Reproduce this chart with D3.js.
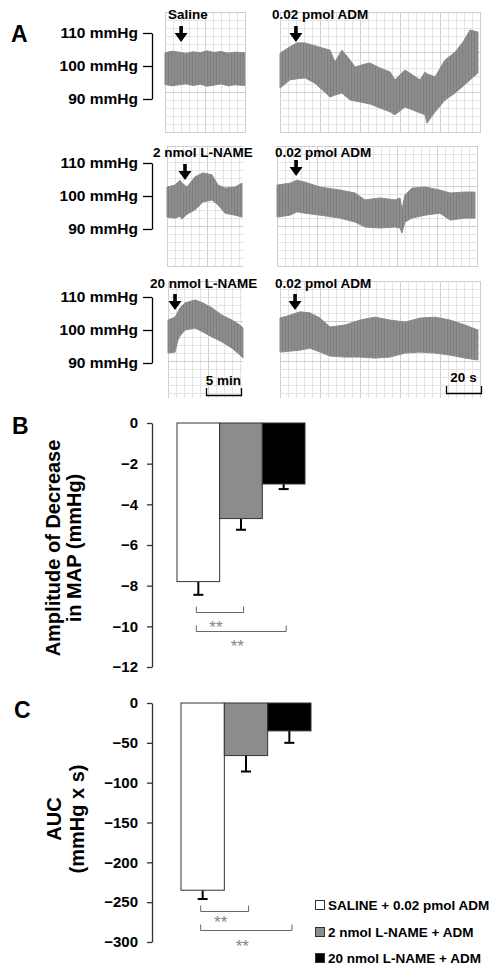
<!DOCTYPE html>
<html><head><meta charset="utf-8">
<script src="https://cdn.jsdelivr.net/npm/d3@7"></script>
<style>
body{margin:0;background:#fff;}
text{font-family:"Liberation Sans",Arial,Helvetica,sans-serif;font-weight:bold;}
</style>
</head><body>
<svg id="chart" width="502" height="975"></svg>
<script>
// ---------------- DATA ----------------
// Panel A pressure axis ticks (mmHg)
const pressureTicks = [90, 100, 110];

// Row 1 left: Saline (time in min; systolic / diastolic envelope in mmHg)
const r1L_t  = [0, 1, 2, 3, 4, 5, 6, 7, 8, 9, 10, 11.4];
const r1L_hi = [104.0, 104.5, 104.2, 103.8, 104.3, 104.0, 104.6, 104.1, 104.4, 103.9, 104.2, 104.0];
const r1L_lo = [94.4, 94.0, 94.3, 94.6, 94.1, 94.5, 93.9, 94.2, 94.6, 94.0, 94.3, 94.1];

// Row 1 right: 0.02 pmol ADM after saline (time in s)
const r1R_t  = [0, 5.7, 9.7, 14.3, 20, 28.6, 31.4, 35.4, 40, 42.9, 48.6, 51.4, 57.1, 62.9, 65.7, 71.4, 80, 82.9, 84, 88.6, 94.3, 100, 104.6, 108.6, 113.1];
const r1R_hi = [103.9, 105.8, 107.0, 107.0, 106.1, 104.8, 101.2, 104.8, 101.8, 99.7, 100.6, 100.9, 99.4, 98.2, 95.8, 98.8, 95.8, 98.2, 97.6, 96.7, 101.8, 104.2, 107.3, 110.9, 110.3];
const r1R_lo = [93.3, 95.8, 96.1, 96.4, 94.8, 90.6, 91.2, 91.8, 89.7, 89.4, 88.8, 88.5, 87.3, 86.1, 85.2, 87.6, 85.8, 85.2, 82.7, 86.1, 89.7, 91.8, 93.9, 95.8, 97.9];

// Row 2 left: 2 nmol L-NAME (min)
const r2L_t  = [0, 1.14, 1.86, 2.14, 2.86, 4, 5.14, 6.43, 7.29, 8.29, 9.71, 10.71];
const r2L_hi = [102.7, 103.3, 104.8, 103.9, 102.7, 105.8, 107.0, 106.4, 103.3, 102.4, 102.7, 103.9];
const r2L_lo = [93.6, 93.3, 93.9, 93.0, 94.5, 95.8, 98.2, 98.8, 97.3, 94.8, 94.2, 93.6];

// Row 2 right: 0.02 pmol ADM after 2 nmol L-NAME (s)
const r2R_t  = [0, 7.4, 11.4, 16, 24.6, 36, 44.6, 50.3, 58.9, 67.4, 70.3, 71.4, 73.1, 77.1, 84.6, 93.1, 98.9, 107.4, 113.1];
const r2R_hi = [103.3, 103.9, 104.8, 104.2, 102.7, 101.8, 100.9, 98.8, 99.4, 98.8, 99.4, 95.8, 100.3, 102.4, 102.7, 101.8, 100.9, 101.2, 101.2];
const r2R_lo = [93.6, 94.2, 95.2, 94.8, 94.2, 93.3, 92.1, 90.6, 90.3, 90.6, 90.3, 88.8, 92.1, 93.3, 94.2, 94.8, 92.7, 93.3, 93.3];

// Row 3 left: 20 nmol L-NAME (min)
const r3L_t  = [0, 1, 1.43, 1.71, 2.43, 3.86, 5, 6.29, 7.71, 9.14, 10.29, 10.71];
const r3L_hi = [103.0, 103.9, 105.5, 106.7, 108.2, 109.1, 108.2, 106.7, 104.5, 103.0, 101.5, 100.6];
const r3L_lo = [93.0, 93.3, 97.0, 98.2, 100.0, 100.6, 99.4, 97.9, 96.4, 94.5, 92.4, 91.5];

// Row 3 right: 0.02 pmol ADM after 20 nmol L-NAME (s)
const r3R_t  = [0, 5.7, 11.4, 17.1, 22.9, 28.6, 37.1, 45.7, 54.3, 62.9, 71.4, 80, 88.6, 97.1, 105.7, 113.1];
const r3R_hi = [103.6, 104.5, 105.5, 105.2, 103.6, 100.9, 101.5, 103.0, 103.9, 103.0, 102.4, 103.6, 103.9, 103.0, 101.5, 100.0];
const r3R_lo = [93.3, 93.6, 93.9, 94.5, 93.3, 92.1, 91.8, 91.8, 91.5, 91.8, 93.0, 93.3, 93.0, 92.4, 91.5, 90.9];

// Injection markers
const leftLabels  = ["Saline", "2 nmol L-NAME", "20 nmol L-NAME"];
const rightLabel  = "0.02 pmol ADM";
const leftInjT    = [2.3, 2.57, 1.0];    // min
const rightInjT   = [9.1, 10.9, 8.6];    // s
const leftScaleBar  = 5;   // min
const rightScaleBar = 20;  // s

// Panels B and C
const groups   = ["SALINE + 0.02 pmol ADM", "2 nmol L-NAME + ADM", "20 nmol L-NAME + ADM"];
const ampMean  = [-7.8, -4.7, -3.0];
const ampSE    = [0.65, 0.55, 0.25];
const ampTicks = [0, -2, -4, -6, -8, -10, -12];
const aucMean  = [-235, -66, -35];
const aucSE    = [11, 20, 15];
const aucTicks = [0, -50, -100, -150, -200, -250, -300];
// significance comparisons: [from group, to group, bracket level, star level]
const ampSig = [[0, 1, -9.3, -9.85], [0, 2, -10.25, -10.75]];
const aucSig = [[0, 1, -261, -270], [0, 2, -285, -300]];
const fills  = ["#ffffff", "#8c8c8c", "#000000"];

// ---------------- DRAW ----------------
const svg = d3.select("#chart");
const defs = svg.append("defs");
const pat = defs.append("pattern").attr("id", "trace").attr("patternUnits", "userSpaceOnUse")
  .attr("width", 3).attr("height", 4);
pat.append("rect").attr("width", 3).attr("height", 4).attr("fill", "#8d8d8d");
pat.append("rect").attr("width", 1).attr("height", 4).attr("fill", "#7f7f7f");

function grid(x0, x1, y0, y1) {
  const g = svg.append("g");
  let i = 0;
  for (let x = x0; x <= x1 + 0.1; x += 8, i++) {
    g.append("line").attr("x1", x + 0.5).attr("x2", x + 0.5).attr("y1", y0).attr("y2", y1)
      .attr("stroke", i % 5 === 0 ? "#cfcfcf" : "#e4e4e4").attr("stroke-width", 1);
  }
  i = 0;
  for (let y = y0; y <= y1 + 0.1; y += 8, i++) {
    g.append("line").attr("x1", x0).attr("x2", x1).attr("y1", y + 0.5).attr("y2", y + 0.5)
      .attr("stroke", i % 5 === 0 ? "#cfcfcf" : "#e4e4e4").attr("stroke-width", 1);
  }
}

function arrow(x, tip) {
  svg.append("rect").attr("x", x - 1.8).attr("y", tip - 16).attr("width", 3.6).attr("height", 9).attr("fill", "#000");
  svg.append("path").attr("d", `M${x - 6.5},${tip - 9} L${x + 6.5},${tip - 9} L${x},${tip} Z`).attr("fill", "#000");
}

const rows = [
  {y110: 33, y90: 99, gy: [12, 133], L: {x0: 165, gx: [165, 245], t: r1L_t, hi: r1L_hi, lo: r1L_lo, lab: 168},
   R: {x0: 280, gx: [280, 480], t: r1R_t, hi: r1R_hi, lo: r1R_lo, lab: 272}, labY: 19, tipL: 42, tipR: 42},
  {y110: 163, y90: 229, gy: [146, 266], L: {x0: 167, gx: [167, 243], t: r2L_t, hi: r2L_hi, lo: r2L_lo, lab: 153},
   R: {x0: 277, gx: [277, 478], t: r2R_t, hi: r2R_hi, lo: r2R_lo, lab: 275}, labY: 157, tipL: 180, tipR: 176},
  {y110: 297, y90: 363, gy: [281, 398], L: {x0: 168, gx: [168, 243], t: r3L_t, hi: r3L_hi, lo: r3L_lo, lab: 150},
   R: {x0: 280, gx: [280, 480], t: r3R_t, hi: r3R_hi, lo: r3R_lo, lab: 275}, labY: 288, tipL: 310, tipR: 310}
];

let lastXL, lastXR;
rows.forEach((r, ri) => {
  const y = d3.scaleLinear().domain([90, 110]).range([r.y90, r.y110]);
  const xL = d3.scaleLinear().domain([0, 80 / 7]).range([r.L.x0, r.L.x0 + 80]);
  const xR = d3.scaleLinear().domain([0, 200 / 1.75]).range([r.R.x0, r.R.x0 + 200]);
  lastXL = xL; lastXR = xR;
  grid(r.L.gx[0], r.L.gx[1], r.gy[0], r.gy[1]);
  grid(r.R.gx[0], r.R.gx[1], r.gy[0], r.gy[1]);
  [[r.L, xL], [r.R, xR]].forEach(([p, x]) => {
    const data = p.t.map((t, i) => ({t, hi: p.hi[i], lo: p.lo[i]}));
    const area = d3.area().x(d => x(d.t)).y0(d => y(d.lo)).y1(d => y(d.hi));
    svg.append("path").attr("d", area(data)).attr("fill", "url(#trace)")
      .attr("stroke", "#8a8a8a").attr("stroke-width", 1).attr("stroke-linejoin", "round");
  });
  // pressure axis bracket
  const ax = svg.append("g").attr("transform", "translate(152,0)")
    .call(d3.axisLeft(y).tickValues(pressureTicks).tickSize(9).tickSizeOuter(0).tickPadding(5)
      .tickFormat(d => d + " mmHg"));
  ax.selectAll("path,line").attr("stroke", "#000").attr("stroke-width", 1.3);
  ax.selectAll("text").attr("font-size", "15.5px").attr("fill", "#000")
    .style("font-family", '"Liberation Sans",Arial,sans-serif').style("font-weight", "bold");
  // labels + arrows
  svg.append("text").attr("x", r.L.lab).attr("y", r.labY).attr("font-size", "13.5px").text(leftLabels[ri]);
  svg.append("text").attr("x", r.R.lab).attr("y", r.labY).attr("font-size", "13.5px").text(rightLabel);
  arrow(xL(leftInjT[ri]), r.tipL);
  arrow(xR(rightInjT[ri]), r.tipR);
});

// scale bars
function scaleBar(x, x0, val, lbl, barY, textY) {
  const a = x0, b = x0 + (x(val) - x(0));
  svg.append("path").attr("d", `M${a + 0.5},${barY - 7} V${barY + 0.5} H${b + 0.5} V${barY - 7}`)
    .attr("fill", "none").attr("stroke", "#000").attr("stroke-width", 1.3);
  svg.append("text").attr("x", (a + b) / 2).attr("y", textY).attr("text-anchor", "middle")
    .attr("font-size", "13.5px").text(lbl);
}
scaleBar(lastXL, 206, leftScaleBar, "5 min", 395, 385);
scaleBar(lastXR, 446, rightScaleBar, "20 s", 393, 382);

// panel letters
svg.append("text").attr("x", 11).attr("y", 42).attr("font-size", "23px").text("A");
svg.append("text").attr("x", 12).attr("y", 434).attr("font-size", "23px").text("B");
svg.append("text").attr("x", 14).attr("y", 718).attr("font-size", "23px").text("C");

// bar panels
function barPanel(mean, se, ticks, sig, yTop, yBot, xr, titles) {
  const y = d3.scaleLinear().domain([ticks[ticks.length - 1], 0]).range([yBot, yTop]);
  const x = d3.scaleBand().domain(groups).range(xr).padding(0);
  const bw = x.bandwidth();
  const g = svg.append("g");
  // error bars
  groups.forEach((k, i) => {
    const cx = x(k) + bw / 2;
    g.append("line").attr("x1", cx).attr("x2", cx).attr("y1", y(mean[i])).attr("y2", y(mean[i] - se[i]))
      .attr("stroke", "#000").attr("stroke-width", 2);
    g.append("line").attr("x1", cx - 5).attr("x2", cx + 5).attr("y1", y(mean[i] - se[i])).attr("y2", y(mean[i] - se[i]))
      .attr("stroke", "#000").attr("stroke-width", 2);
  });
  g.selectAll("rect.bar").data(groups).join("rect").attr("class", "bar")
    .attr("x", d => x(d)).attr("width", bw)
    .attr("y", y(0)).attr("height", (d, i) => y(mean[i]) - y(0))
    .attr("fill", (d, i) => fills[i]).attr("stroke", "#333").attr("stroke-width", 1);
  const ax = svg.append("g").attr("transform", "translate(152,0)")
    .call(d3.axisLeft(y).tickValues(ticks).tickSize(5).tickSizeOuter(0).tickPadding(9));
  ax.selectAll("path,line").attr("stroke", "#333").attr("stroke-width", 1.3);
  ax.selectAll("text").attr("font-size", "15px").attr("fill", "#000")
    .style("font-family", '"Liberation Sans",Arial,sans-serif').style("font-weight", "bold");
  // significance brackets
  sig.forEach(([a, b, lev, starLev]) => {
    const xa = x(groups[a]) + bw / 2 - 2, xb = x(groups[b]) + bw / 2 + bw * 0.06;
    const yl = Math.round(y(lev)) + 0.5;
    svg.append("path").attr("d", `M${xa},${yl - 6} V${yl} H${xb} V${yl - 6}`)
      .attr("fill", "none").attr("stroke", "#666").attr("stroke-width", 1);
    svg.append("text").attr("x", (xa + xb) / 2 - 4).attr("y", y(starLev) + 10).attr("text-anchor", "middle")
      .attr("font-size", "17px").style("font-weight", "normal").attr("fill", "#858585").text("**");
  });
  titles.forEach(t => {
    svg.append("text").attr("transform", `translate(${t.x},${t.y}) rotate(-90)`).attr("text-anchor", "middle")
      .attr("font-size", "20px").text(t.s);
  });
}
barPanel(ampMean, ampSE, ampTicks, ampSig, 423, 667, [177, 305],
  [{s: "Amplitude of Decrease", x: 60, y: 548}, {s: "in MAP (mmHg)", x: 81, y: 548}]);
barPanel(aucMean, aucSE, aucTicks, aucSig, 703, 942, [181, 311],
  [{s: "AUC", x: 61, y: 819}, {s: "(mmHg x s)", x: 84, y: 819}]);

// legend
const legY = [905, 932, 958];
groups.forEach((k, i) => {
  svg.append("rect").attr("x", 315.5).attr("y", legY[i] - 4.5).attr("width", 9).attr("height", 9)
    .attr("fill", fills[i]).attr("stroke", "#333").attr("stroke-width", 1);
  svg.append("text").attr("x", 328).attr("y", legY[i] + 5).attr("font-size", "13.5px").text(k);
});
</script>
</body></html>
